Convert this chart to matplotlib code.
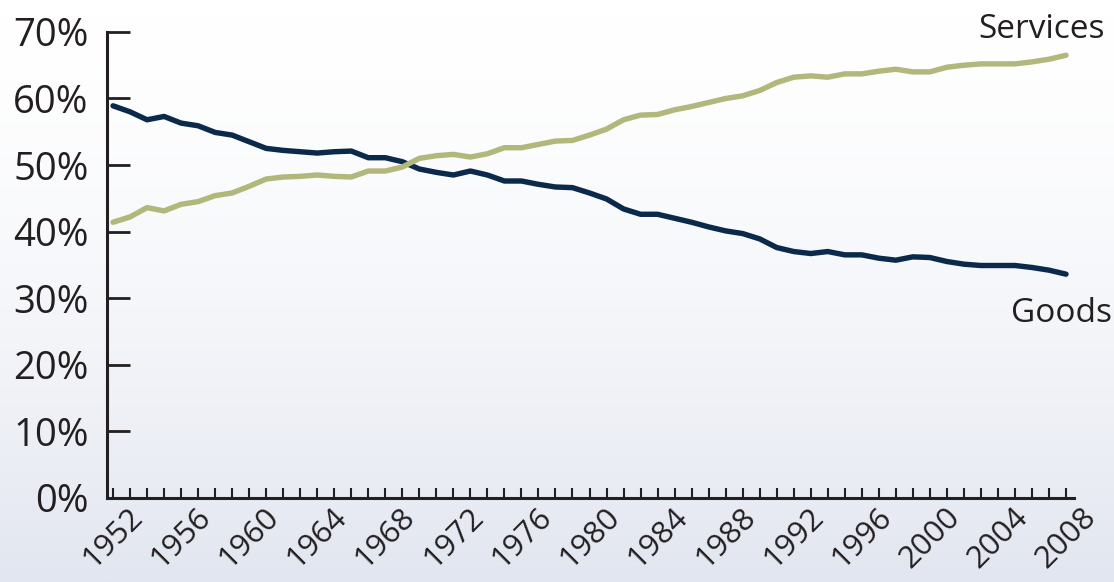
import numpy as np
import matplotlib
matplotlib.use("Agg")
import matplotlib.pyplot as plt
from matplotlib.colors import LinearSegmentedColormap

# share of consumption, percent
years = list(range(1952, 2009))
goods = [58.9, 58.0, 56.8, 57.3, 56.3, 55.9, 54.9, 54.5, 53.5, 52.5,
         52.2, 52.0, 51.8, 52.0, 52.1, 51.1, 51.1, 50.5, 49.4, 48.9,
         48.5, 49.1, 48.5, 47.6, 47.6, 47.1, 46.7, 46.6, 45.8, 44.9,
         43.4, 42.6, 42.6, 42.0, 41.4, 40.7, 40.1, 39.7, 38.9, 37.6,
         37.0, 36.7, 37.0, 36.5, 36.5, 36.0, 35.7, 36.2, 36.1, 35.5,
         35.1, 34.9, 34.9, 34.9, 34.6, 34.2, 33.6]
services = [41.4, 42.2, 43.6, 43.1, 44.1, 44.5, 45.4, 45.8, 46.8, 47.9,
            48.2, 48.3, 48.5, 48.3, 48.2, 49.1, 49.1, 49.7, 51.0, 51.4,
            51.6, 51.2, 51.7, 52.6, 52.6, 53.1, 53.6, 53.7, 54.5, 55.4,
            56.8, 57.5, 57.6, 58.3, 58.8, 59.4, 60.0, 60.4, 61.2, 62.4,
            63.2, 63.4, 63.2, 63.7, 63.7, 64.1, 64.4, 64.0, 64.0, 64.7,
            65.0, 65.2, 65.2, 65.2, 65.5, 65.9, 66.5]
y_ticks = [0, 10, 20, 30, 40, 50, 60, 70]

ink = '#231f20'
goods_col = '#0b2a4b'
serv_col = '#b2b77b'

plt.rcParams['font.family'] = ['Open Sans', 'DejaVu Sans']

fig = plt.figure(figsize=(11.14, 5.82), dpi=100)

# background gradient, white on top to pale blue-grey at bottom
bg = fig.add_axes([0, 0, 1, 1], zorder=0)
grad = np.linspace(0, 1, 256) ** 1.6
cmap = LinearSegmentedColormap.from_list('bg', ['#ffffff', '#e2e6f0'])
bg.imshow(grad[:, None], aspect='auto', cmap=cmap, extent=[0, 1, 0, 1])
bg.axis('off')

ax = fig.add_axes([0.0958, 0.1448, 0.8683, 0.8003], zorder=1)
ax.patch.set_alpha(0)

ax.plot(years, goods, color=goods_col, lw=3.9, solid_capstyle='round',
        solid_joinstyle='round', clip_on=False)
ax.plot(years, services, color=serv_col, lw=3.9, solid_capstyle='round',
        solid_joinstyle='round', clip_on=False)

ax.set_xlim(1951.63, 2008.47)
ax.set_ylim(0, 70)

for s in ['top', 'right']:
    ax.spines[s].set_visible(False)
for s in ['left', 'bottom']:
    ax.spines[s].set_color(ink)
    ax.spines[s].set_linewidth(2.2)

ax.set_yticks(y_ticks)
ax.set_yticklabels(['%d%%' % v for v in y_ticks])
ax.tick_params(axis='y', direction='in', length=16.5, width=2, color=ink,
               labelsize=27.5, labelcolor=ink, pad=13)

ax.set_xticks(years)
ax.set_xticklabels([str(y) if (y - 1952) % 4 == 0 else '' for y in years],
                   rotation=45, ha='center')
ax.tick_params(axis='x', direction='in', length=7, width=1.5, color=ink,
               labelsize=22.5, labelcolor=ink, pad=3)

fig.text(978 / 1114, 1 - 38 / 582, 'Services', fontsize=24, color=ink,
         va='baseline', ha='left')
fig.text(1011 / 1114, 1 - 322 / 582, 'Goods', fontsize=24, color=ink,
         va='baseline', ha='left')

fig.savefig('out.png', dpi=100)
